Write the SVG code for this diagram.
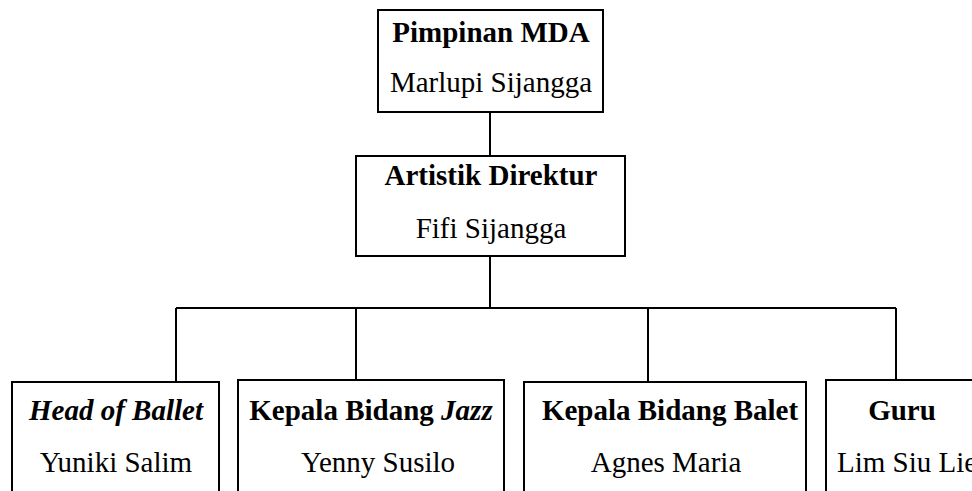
<svg xmlns="http://www.w3.org/2000/svg" width="972" height="491" viewBox="0 0 972 491">
<style>
.box{fill:#fff;stroke:#000;stroke-width:2}
.ln{fill:none;stroke:#000;stroke-width:2}
text{font-family:"Liberation Serif","Times New Roman",serif;font-size:29px;fill:#000}
.b{font-weight:bold}
.bi{font-weight:bold;font-style:italic}
.c{text-anchor:middle}
</style>
<rect width="972" height="491" fill="#fff"/>
<g id="connectors">
<path class="ln" d="M490 112V156"/>
<path class="ln" d="M490 256V308"/>
<path class="ln" d="M176 308H896"/>
<path class="ln" d="M176 308V382"/>
<path class="ln" d="M356 308V380"/>
<path class="ln" d="M648 308V382"/>
<path class="ln" d="M896 308V380"/>
</g>
<g id="pimpinan">
<rect class="box" x="378" y="10" width="225" height="102"/>
<text class="b c" x="491" y="42">Pimpinan MDA</text>
<text class="c" x="491" y="92">Marlupi Sijangga</text>
</g>
<g id="artistik">
<rect class="box" x="356" y="156" width="269" height="100"/>
<text class="b c" x="491" y="185">Artistik Direktur</text>
<text class="c" x="491" y="238">Fifi Sijangga</text>
</g>
<g id="head-ballet">
<rect class="box" x="12" y="382" width="207" height="130"/>
<text class="bi c" x="116" y="420">Head of Ballet</text>
<text class="c" x="116" y="472">Yuniki Salim</text>
</g>
<g id="kepala-jazz">
<rect class="box" x="238" y="380" width="266" height="130"/>
<text class="b c" x="371" y="420">Kepala Bidang <tspan class="bi">Jazz</tspan></text>
<text class="c" x="378" y="472">Yenny Susilo</text>
</g>
<g id="kepala-balet">
<rect class="box" x="524" y="382" width="282" height="130"/>
<text class="b c" x="670" y="420">Kepala Bidang Balet</text>
<text class="c" x="666" y="472">Agnes Maria</text>
</g>
<g id="guru">
<rect class="box" x="826" y="380" width="180" height="130"/>
<text class="b c" x="902" y="420">Guru</text>
<text x="837" y="472">Lim Siu Lie</text>
</g>
</svg>
